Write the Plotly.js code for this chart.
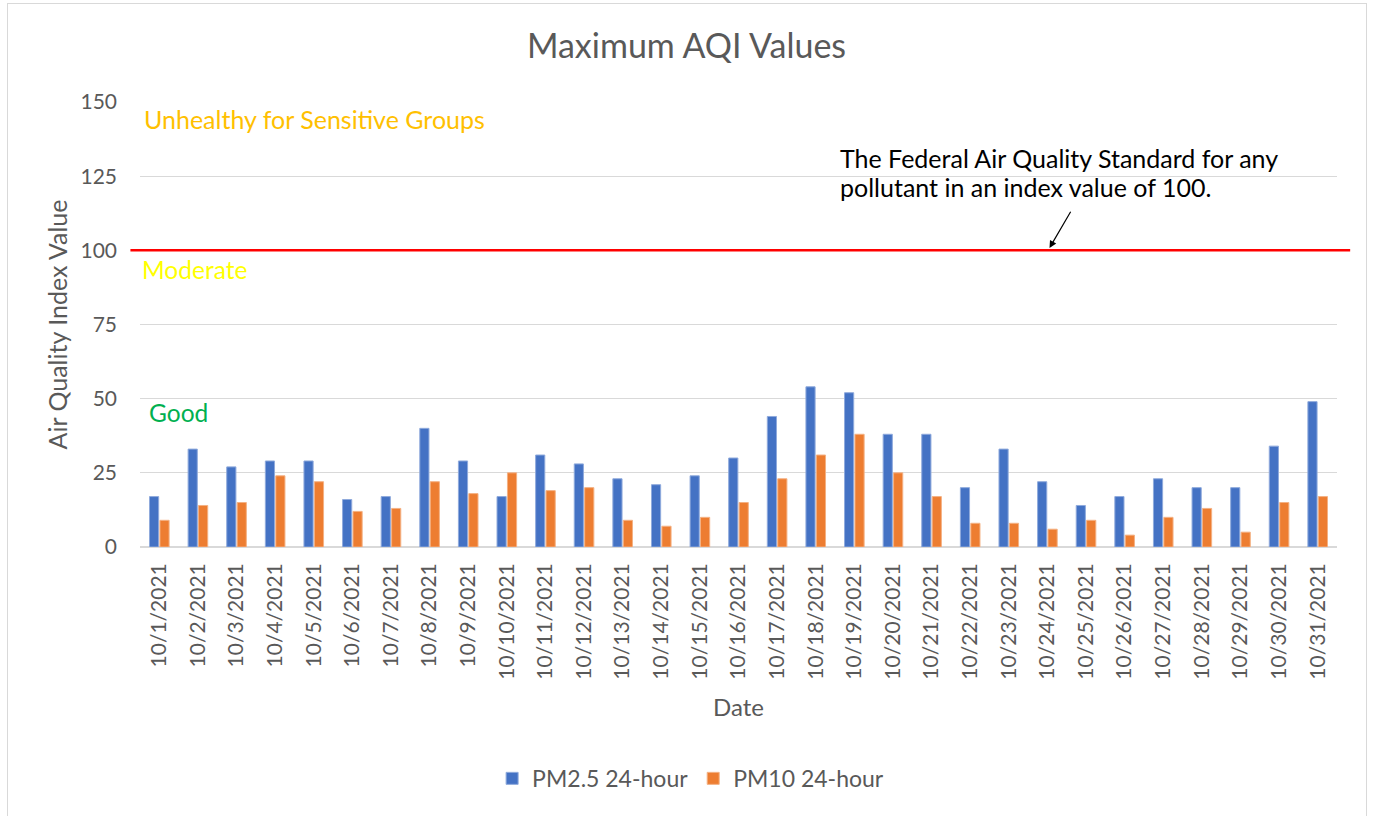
<!DOCTYPE html>
<html>
<head>
<meta charset="utf-8">
<script src="https://cdn.plot.ly/plotly-3.0.1.min.js"></script>
<style>
body{margin:0;padding:0;background:#fff;}
#wrap{position:relative;width:1373px;height:816px;}
#chart{width:1373px;height:816px;}
#frame{position:absolute;left:7px;top:3px;width:1358px;height:820px;border:1px solid #d9d9d9;pointer-events:none;}
</style>
</head>
<body>
<div id="wrap"><div id="chart"></div><div id="frame"></div></div>
<script>
const dates = ["10/1/2021","10/2/2021","10/3/2021","10/4/2021","10/5/2021","10/6/2021","10/7/2021","10/8/2021","10/9/2021","10/10/2021","10/11/2021","10/12/2021","10/13/2021","10/14/2021","10/15/2021","10/16/2021","10/17/2021","10/18/2021","10/19/2021","10/20/2021","10/21/2021","10/22/2021","10/23/2021","10/24/2021","10/25/2021","10/26/2021","10/27/2021","10/28/2021","10/29/2021","10/30/2021","10/31/2021"];
const pm25 = [17,33,27,29,29,16,17,40,29,17,31,28,23,21,24,30,44,54,52,38,38,20,33,22,14,17,23,20,20,34,49];
const pm10 = [9,14,15,24,22,12,13,22,18,25,19,20,9,7,10,15,23,31,38,25,17,8,8,6,9,4,10,13,5,15,17];
const seriesNames = ["PM2.5 24-hour","PM10 24-hour"];
const yTicks = [0,25,50,75,100,125,150];
const standardValue = 100;

const FONT = "Lato, 'Open Sans', sans-serif";
const grey = "#595959";

const traces = [
  {type:"bar", name:seriesNames[0], x:dates, y:pm25, marker:{color:"#4472C4", line:{color:"#8faadc", width:1}}},
  {type:"bar", name:seriesNames[1], x:dates, y:pm10, marker:{color:"#ED7D31", line:{color:"#f4b183", width:1}}}
];

const layout = {
  width:1373, height:816,
  margin:{l:140, r:36, t:102, b:269},
  paper_bgcolor:"#fff", plot_bgcolor:"#fff",
  font:{family:FONT, color:grey, size:21},
  title:{text:"Maximum AQI Values", font:{family:FONT, size:34, color:grey}, x:0.5, xref:"container", xanchor:"center", y:0.943, yanchor:"middle"},
  barmode:"group", bargap:0.46, bargroupgap:0.12,
  xaxis:{
    type:"category", tickangle:-90, tickfont:{size:21, color:grey},
    showgrid:false, showline:false, zeroline:false, ticks:"", ticklabelstandoff:11,
    title:{text:"Date", font:{size:24, color:grey}, standoff:20}
  },
  yaxis:{
    range:[0,150], tickvals:yTicks, tickfont:{size:21, color:grey},
    gridcolor:"#d9d9d9", gridwidth:1, zeroline:true, zerolinecolor:"#d9d9d9", zerolinewidth:2,
    showline:false, ticks:"", ticklabelstandoff:22,
    title:{text:"Air Quality Index Value", font:{size:25, color:grey}, standoff:5}
  },
  legend:{orientation:"h", x:0.46, xanchor:"center", y:-0.52, yanchor:"middle", font:{size:23, color:grey}},
  shapes:[
    {type:"line", xref:"paper", yref:"y", x0:-0.008, x1:1.011, y0:standardValue, y1:standardValue, line:{color:"#FF0000", width:2.5}}
  ],
  annotations:[
    {xref:"paper", yref:"y", x:0.002, y:144.3, text:"Unhealthy for Sensitive Groups", showarrow:false, xanchor:"left", yanchor:"middle", font:{size:25, color:"#FFC000"}},
    {xref:"paper", yref:"y", x:0.0, y:93.4, text:"Moderate", showarrow:false, xanchor:"left", yanchor:"middle", font:{size:24.5, color:"#FFFF00"}},
    {xref:"paper", yref:"y", x:0.006, y:45.2, text:"Good", showarrow:false, xanchor:"left", yanchor:"middle", font:{size:24.5, color:"#00B050"}},
    {xref:"paper", yref:"y", x:0.583, y:131.1, text:"The Federal Air Quality Standard for any", showarrow:false, xanchor:"left", yanchor:"middle", align:"left", font:{size:25, color:"#000"}},
    {xref:"paper", yref:"y", x:0.583, y:121.3, text:"pollutant in an index value of 100.", showarrow:false, xanchor:"left", yanchor:"middle", align:"left", font:{size:25, color:"#000"}},
    {xref:"paper", yref:"y", x:0.7598, y:100.8, ax:0.7782, ay:113.5, axref:"paper", ayref:"y", text:"", showarrow:true, arrowhead:2, arrowsize:1.2, arrowwidth:1.2, arrowcolor:"#000"}
  ]
};

Plotly.newPlot("chart", traces, layout, {displayModeBar:false, staticPlot:true});
</script>
</body>
</html>
